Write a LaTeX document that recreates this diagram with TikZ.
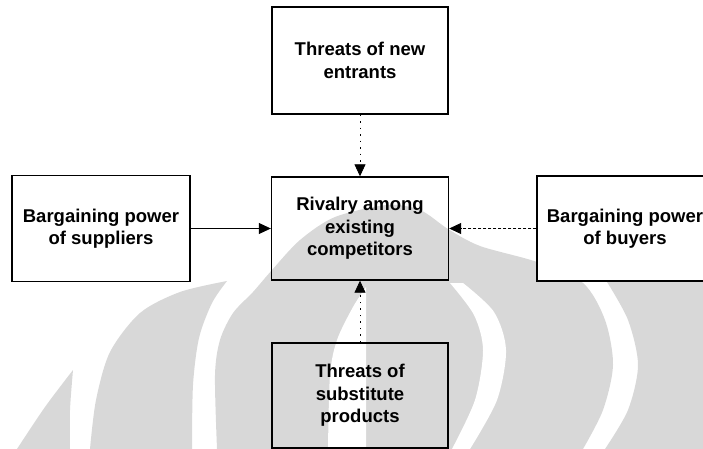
\documentclass[tikz,border=0pt]{standalone}
\usepackage{fontspec}
\setmainfont{Liberation Sans}
\usetikzlibrary{arrows.meta}
\definecolor{wmgray}{HTML}{D8D8D8}
\begin{document}
\begin{tikzpicture}[x=1pt,y=-1pt,
  wm/.style={fill=wmgray},
  box/.style={draw, line width=1.4pt, minimum width=176pt, minimum height=105pt,
    align=center, inner sep=0pt, font=\fontsize{18.5}{22.5}\selectfont\bfseries},
  conn/.style={line width=0.8pt, -{Triangle[length=12pt,width=11pt]}},
  dotline/.style={dash pattern=on 1.5pt off 5pt}]
\useasboundingbox (0,0) rectangle (703,449);
\begin{scope}
\clip (0,0) rectangle (703,449);
% watermark
\fill[wm] plot[smooth] coordinates {(17,449) (45,407) (73,370)} -- plot[smooth] coordinates {(73,370) (70,410) (70,449)} -- cycle;
\fill[wm] plot[smooth] coordinates {(90,449) (96,400) (110,352) (140,313) (180,292) (227,281)} -- plot[smooth] coordinates {(227,281) (212,303) (199,338) (193,385) (192,449)} -- cycle;
\fill[wm] plot[smooth] coordinates {(217,449) (215,375) (220,340) (233,313) (253,292) (272,270) (300,240) (335,217) (387,205) (420,210) (448,229) (480,246) (537,262) (583,283) (605,320) (613,365) (603,410) (583,449)} -- cycle;
\fill[white] plot[smooth] coordinates {(366,287) (353,307) (337,340) (330,375) (328,449)} -- (366,449) -- cycle;
\fill[white] plot[smooth] coordinates {(450,283) (474,315) (483,350) (475,400) (452,449)} -- plot[smooth] coordinates {(470,449) (497,400) (506,350) (494,312) (463,283)} -- cycle;
\fill[wm] plot[smooth] coordinates {(607,282) (628,320) (638,365) (628,410) (605,449)} -- (703,449) -- (703,282) -- cycle;
% boxes
\node[box, minimum height=107pt] (top) at (360,60.5) {Threats of new\\entrants};
\node[box, minimum width=178pt, minimum height=106pt] (sup) at (101,228.5) {Bargaining power\\of suppliers};
\node[box, minimum width=177pt, minimum height=103pt] (riv) at (360,228.5) {Rivalry among\\existing\\competitors};
\node[box, fill=white] (buy) at (625,228.5) {Bargaining power\\of buyers};
\node[box] (sub) at (360,395.5) {Threats of\\substitute\\products};
% connectors
\draw[conn] (sup) -- (riv);
\draw[conn, densely dashed] (buy) -- (riv);
\draw[conn, dotline] (top) -- (riv);
\draw[conn, dotline] (sub) -- (riv);
\end{scope}
\end{tikzpicture}
\end{document}
